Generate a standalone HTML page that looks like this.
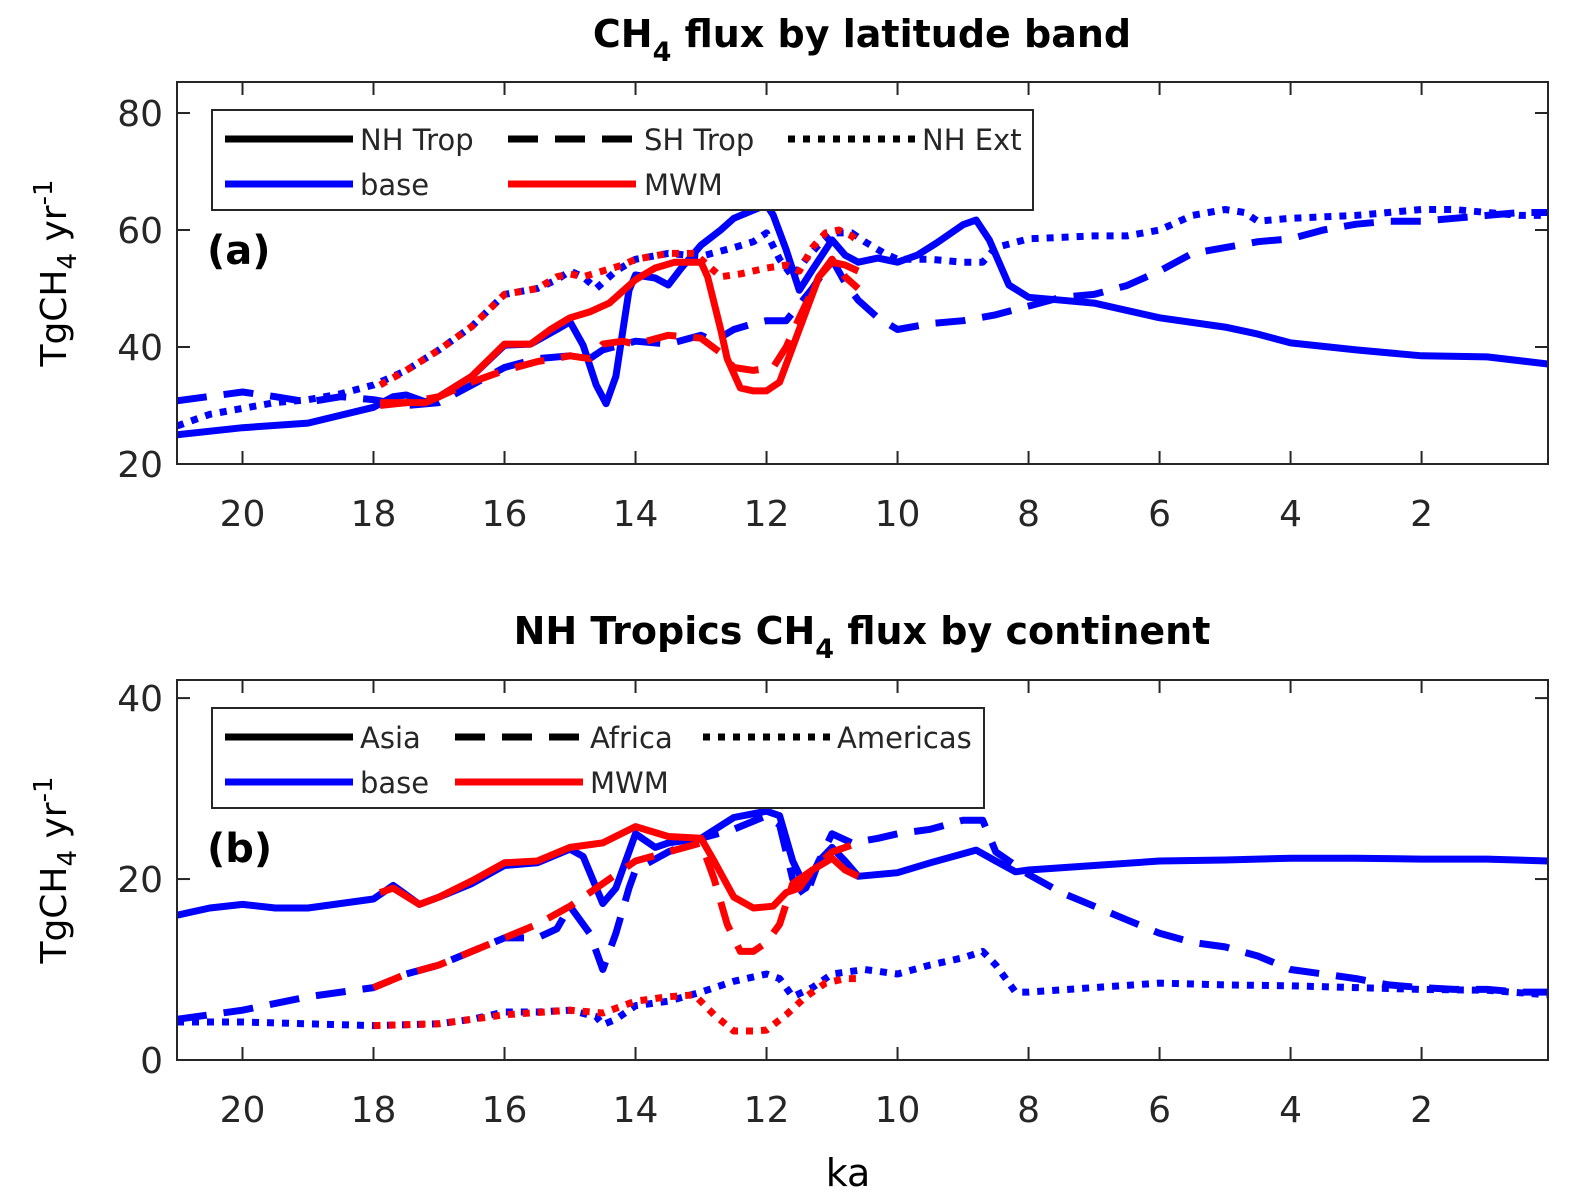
<!DOCTYPE html>
<html><head><meta charset="utf-8">
<style>
html,body{margin:0;padding:0;background:#fff;}
svg{display:block;font-family:"DejaVu Sans","Liberation Sans",sans-serif;}
</style></head>
<body>
<svg id="chart" width="1570" height="1204" viewBox="0 0 1570 1204" xmlns="http://www.w3.org/2000/svg">
<text x="862" y="47" font-size="38" font-weight="bold" text-anchor="middle">CH<tspan font-size="27" dy="14">4</tspan><tspan dy="-14"> flux by latitude band</tspan></text>
<text x="862" y="644" font-size="38" font-weight="bold" text-anchor="middle">NH Tropics CH<tspan font-size="27" dy="14">4</tspan><tspan dy="-14"> flux by continent</tspan></text>
<text transform="translate(66,273) rotate(-90)" font-size="36" text-anchor="middle">TgCH<tspan font-size="26" dy="10">4</tspan><tspan dy="-10"> yr</tspan><tspan font-size="26" dy="-14">-1</tspan></text>
<text transform="translate(66,870) rotate(-90)" font-size="36" text-anchor="middle">TgCH<tspan font-size="26" dy="10">4</tspan><tspan dy="-10"> yr</tspan><tspan font-size="26" dy="-14">-1</tspan></text>
<text x="848" y="1186" font-size="38" text-anchor="middle">ka</text>
<g id="pa"></g>
<g id="pb"></g>
</svg>
<script>
// ---- Panel (a) data ----
const kaA_nhTropBase=[21,20,19,18,17.7,17.5,17.2,17,16.5,16,15.6,15.2,15,14.8,14.6,14.45,14.3,14.1,14,13.7,13.5,13.3,13,12.7,12.5,12.2,12,11.9,11.7,11.5,11.3,11,10.8,10.6,10.3,10,9.7,9.4,9,8.8,8.6,8.3,8,7.5,7,6,5,4.5,4,3,2,1,0.07];
const valA_nhTropBase=[25,26.2,27,29.7,31.5,31.8,30.6,31.5,35,40.3,40.5,43,44.3,40.3,33.5,30.3,35,49.7,52.3,51.8,50.6,53.5,57.4,60,62,63.4,64.3,62.6,56.6,49.7,53.2,58.3,55.7,54.5,55.2,54.5,55.7,57.8,60.9,61.7,58.3,50.6,48.5,48,47.5,45,43.4,42.2,40.7,39.5,38.5,38.3,37.1];
const kaA_shTropBase=[21,20,19.5,19,18.5,18,17.5,17,16.5,16,15.5,15,14.7,14.5,14,13.5,13,12.8,12.5,12.2,12,11.7,11.3,11,10.8,10.6,10.3,10,9.5,9,8.5,8,7.5,7,6.5,6,5.5,5,4.5,4,3.5,3,2.5,2,1.5,1,0.5,0.07];
const valA_shTropBase=[30.8,32.3,31.5,30.6,31.5,31,30,30.5,33.5,36.5,38,38.5,38,39.5,41,40.5,42,41,43,44,44.5,44.5,50,55,51,48,45,43,44,44.5,45.5,47,48.5,49,50.5,53,56,57,58,58.5,60,61,61.5,61.5,62,62.5,63,63];
const kaA_nhExtBase=[21,20.5,20,19.5,19,18.5,18,17.5,17,16.5,16,15.5,15.2,15,14.8,14.6,14.3,14,13.5,13,12.5,12.2,12,11.8,11.6,11.4,11.2,11,10.7,10.5,10.2,10,9.5,9,8.7,8.5,8,7,6.5,6,5.5,5,4.7,4.5,4,3,2,1.5,1,0.5,0.07];
const valA_nhExtBase=[26.5,28.5,29.5,30.5,31,32,33.5,36,39.5,43.5,49,50,51.5,53,52,50,53,55,56,55.5,57,58,59.5,55,52,55,57.5,59.5,59.5,58,56,55,55,54.5,54.5,57,58.5,59,59,60,62.5,63.5,63,61.5,62,62.5,63.5,63.5,63,62.5,62.5];
const kaA_nhTropMWM=[17.9,17.5,17.2,17,16.5,16,15.6,15.3,15,14.7,14.4,14,13.7,13.4,13,12.9,12.7,12.6,12.4,12.2,12,11.8,11.6,11.4,11.2,11,10.8,10.6];
const valA_nhTropMWM=[30,30.5,30.5,31.5,35,40.5,40.5,43,45,46,47.5,51.5,53.5,54.5,54.5,52,43,38,33,32.5,32.5,34,40,46,52,54.5,54,53];
const kaA_shTropMWM=[17.9,17.5,17,16.5,16,15.5,15,14.7,14.5,14.2,14,13.5,13,12.7,12.5,12.2,11.9,11.7,11.5,11.2,11,10.8,10.6];
const valA_shTropMWM=[30.5,30.5,31.5,34,36,37.5,38.5,38,40.5,41,40.5,42,41.5,39,36.5,36,36.5,40,45,52,55,52,50];
const kaA_nhExtMWM=[17.9,17.5,17,16.5,16,15.5,15.2,15,14.8,14.5,14.2,14,13.5,13.1,12.9,12.7,12.4,12,11.7,11.5,11.3,11.1,10.9,10.7,10.6];
const valA_nhExtMWM=[33.5,36,39.5,43.5,49,50,52,52.5,52,53,54,55,56,56,54,52,52.5,53.5,54,53,57,59.5,60,59,58];
// ---- Panel (b) data ----
const kaB_asiaBase=[21,20.5,20,19.5,19,18.5,18,17.7,17.3,17,16.5,16,15.5,15,14.8,14.5,14.3,14,13.7,13.5,13,12.5,12,11.8,11.6,11.4,11.2,11,10.8,10.6,10,9.5,9,8.8,8.5,8.2,8,7,6,5,4,3,2,1,0.07];
const valB_asiaBase=[16,16.8,17.2,16.8,16.8,17.3,17.8,19.3,17.2,18,19.5,21.5,21.8,23.3,22.5,17.3,19,25,23.5,24,24.5,26.8,27.5,27,22,19,22,23.5,22,20.3,20.7,21.8,22.8,23.2,22,20.8,21,21.5,22,22.1,22.3,22.3,22.2,22.2,22];
const kaB_africaBase=[21,20,19,18,17.5,17,16.5,16,15.5,15.2,15,14.7,14.5,14.3,14.1,14,13.5,13,12.5,12,11.8,11.6,11.4,11.2,11,10.7,10.3,10,9.5,9,8.7,8.5,8,7.5,7,6.5,6,5.5,5,4.5,4,3.5,3,2.5,2,1.5,1,0.5,0.07];
const valB_africaBase=[4.5,5.5,7,8,9.5,10.5,12,13.5,13.5,14.5,17,14,10,14,19,21,23,24.5,25.5,27,26,20,18,22,25,24,24.5,25,25.5,26.5,26.5,23,20.5,18.5,17,15.5,14,13,12.5,11.5,10,9.5,9,8.3,8,7.8,7.8,7.5,7.5];
const kaB_americasBase=[21,20,19,18,17,16.5,16,15.5,15,14.6,14.5,14.3,14,13.5,13,12.5,12,11.8,11.6,11.3,11,10.5,10,9.5,9,8.7,8.5,8.2,8,7,6,5,4,3,2,1,0.07];
const valB_americasBase=[4.2,4.2,4,3.8,4,4.5,5.3,5.3,5.5,4.8,3.9,4.5,6,6.5,7.5,8.7,9.5,9,7,8,9.5,10,9.5,10.5,11.3,12,10.5,7.5,7.5,8,8.5,8.3,8.2,8,7.8,7.7,7.2];
const kaB_asiaMWM=[17.9,17.7,17.3,17,16.5,16,15.5,15,14.5,14,13.5,13,12.8,12.5,12.2,11.9,11.7,11.5,11.3,11,10.8,10.6];
const valB_asiaMWM=[18.5,19,17.2,18,19.8,21.8,22,23.5,24,25.8,24.7,24.5,22,18,16.8,17,18.5,19,21,22.3,21,20.3];
const kaB_africaMWM=[18,17.5,17,16.5,16,15.5,15,14.5,14.2,14,13.5,13,12.8,12.6,12.4,12.2,12,11.8,11.6,11.3,11,10.6];
const valB_africaMWM=[8,9.5,10.5,12,13.5,15,17,19.5,21,22,23,24,20,15,12,12,13,15,19.5,21,23,24];
const kaB_americasMWM=[18,17,16,15,14.5,14,13.5,13.1,12.8,12.5,12.2,12,11.7,11.4,11.1,10.8,10.6];
const valB_americasMWM=[3.8,4,5,5.5,5.2,6.5,7,7.2,5,3.2,3.2,3.3,5,7,8.5,9,9];
const xTicks=[20,18,16,14,12,10,8,6,4,2];
const yTicksA=[20,40,60,80];
const yTicksB=[0,20,40];

const NS='http://www.w3.org/2000/svg';
function mk(parent,tag,attrs){const e=document.createElementNS(NS,tag);for(const k in attrs)e.setAttribute(k,attrs[k]);parent.appendChild(e);return e;}
const X0=177,X1=1548,KA0=21,KA1=0.07;
function xScale(ka){return X0+(KA0-ka)/(KA0-KA1)*(X1-X0);}
const DASH='30,17',DOT='7,8';

function panel(g,top,bot,vmin,vmax,yTicks,series,legend,boxW,label){
  const y=v=>bot-(v-vmin)/(vmax-vmin)*(bot-top);
  const clipId='clip'+top;
  const cp=mk(g,'clipPath',{id:clipId});
  mk(cp,'rect',{x:X0,y:top,width:X1-X0,height:bot-top});
  const lg=mk(g,'g',{'clip-path':'url(#'+clipId+')'});
  series.forEach(s=>{
    const d=s.ka.map((k,i)=>(i?'L':'M')+xScale(k).toFixed(1)+','+y(s.v[i]).toFixed(1)).join('');
    const p=mk(lg,'path',{d:d,fill:'none',stroke:s.c,'stroke-width':7,'stroke-dasharray':s.dash||'none','stroke-linejoin':'round'});
    
    
  });
  const fr=mk(g,'rect',{x:X0,y:top,width:X1-X0,height:bot-top,fill:'none',stroke:'#262626','stroke-width':2});
  
  
  xTicks.forEach(t=>{
    const xx=xScale(t);
    mk(g,'line',{x1:xx,x2:xx,y1:bot,y2:bot-13,stroke:'#262626','stroke-width':2});
    mk(g,'line',{x1:xx,x2:xx,y1:top,y2:top+13,stroke:'#262626','stroke-width':2});
    const tx=mk(g,'text',{x:xx,y:bot+62,'font-size':36,'text-anchor':'middle',fill:'#262626'});
    tx.textContent=t;
    
    
  });
  yTicks.forEach(t=>{
    const yy=y(t);
    mk(g,'line',{x1:X0,x2:X0+13,y1:yy,y2:yy,stroke:'#262626','stroke-width':2});
    mk(g,'line',{x1:X1,x2:X1-13,y1:yy,y2:yy,stroke:'#262626','stroke-width':2});
    const tx=mk(g,'text',{x:X0-14,y:yy+13,'font-size':36,'text-anchor':'end',fill:'#262626'});
    tx.textContent=t;
    
    
  });
  const lb=mk(g,'text',{x:207,y:top+182,'font-size':40,'font-weight':'bold'});
  lb.textContent=label;
  
  
  const L=mk(g,'g',{});
  
  
  const ly=top+28;
  mk(L,'rect',{x:212,y:ly,width:boxW,height:100,fill:'#fff',stroke:'#262626','stroke-width':2});
  legend.forEach(it=>{
    const yy=ly+it.row*45+29;
    const ln=mk(L,'line',{x1:it.x,x2:it.x+128,y1:yy,y2:yy,stroke:it.c,'stroke-width':7,'stroke-dasharray':it.dash||'none'});
    
    
    const t=mk(L,'text',{x:it.tx,y:yy+11,'font-size':29,fill:'#262626'});
    t.textContent=it.t;
    
    
  });
}

panel(document.getElementById('pa'),82,464,20,85.3,yTicksA,[
 {name:'nh-trop-base',ka:kaA_nhTropBase,v:valA_nhTropBase,c:'#0000ff'},
 {name:'sh-trop-base',ka:kaA_shTropBase,v:valA_shTropBase,c:'#0000ff',dash:DASH},
 {name:'nh-ext-base',ka:kaA_nhExtBase,v:valA_nhExtBase,c:'#0000ff',dash:DOT},
 {name:'nh-trop-mwm',ka:kaA_nhTropMWM,v:valA_nhTropMWM,c:'#ff0000'},
 {name:'sh-trop-mwm',ka:kaA_shTropMWM,v:valA_shTropMWM,c:'#ff0000',dash:DASH},
 {name:'nh-ext-mwm',ka:kaA_nhExtMWM,v:valA_nhExtMWM,c:'#ff0000',dash:DOT}
],[
 {row:0,x:225,tx:360,t:'NH Trop',c:'#000'},
 {row:0,x:508,tx:644,t:'SH Trop',c:'#000',dash:DASH},
 {row:0,x:788,tx:922,t:'NH Ext',c:'#000',dash:DOT},
 {row:1,x:225,tx:360,t:'base',c:'#0000ff'},
 {row:1,x:508,tx:644,t:'MWM',c:'#ff0000'}
],821,'(a)');

panel(document.getElementById('pb'),680,1060,0,42,yTicksB,[
 {name:'asia-base',ka:kaB_asiaBase,v:valB_asiaBase,c:'#0000ff'},
 {name:'africa-base',ka:kaB_africaBase,v:valB_africaBase,c:'#0000ff',dash:DASH},
 {name:'americas-base',ka:kaB_americasBase,v:valB_americasBase,c:'#0000ff',dash:DOT},
 {name:'asia-mwm',ka:kaB_asiaMWM,v:valB_asiaMWM,c:'#ff0000'},
 {name:'africa-mwm',ka:kaB_africaMWM,v:valB_africaMWM,c:'#ff0000',dash:DASH},
 {name:'americas-mwm',ka:kaB_americasMWM,v:valB_americasMWM,c:'#ff0000',dash:DOT}
],[
 {row:0,x:225,tx:360,t:'Asia',c:'#000'},
 {row:0,x:455,tx:590,t:'Africa',c:'#000',dash:DASH},
 {row:0,x:703,tx:837,t:'Americas',c:'#000',dash:DOT},
 {row:1,x:225,tx:360,t:'base',c:'#0000ff'},
 {row:1,x:455,tx:590,t:'MWM',c:'#ff0000'}
],772,'(b)');
</script>
</body></html>
